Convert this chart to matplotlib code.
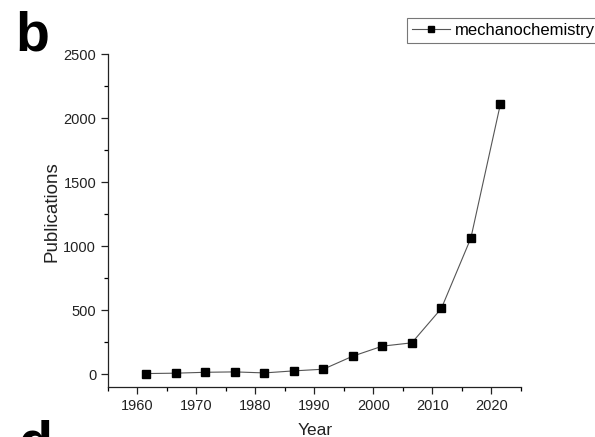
import numpy as np
import matplotlib
matplotlib.use("Agg")
import matplotlib.pyplot as plt
from matplotlib.ticker import MultipleLocator
from matplotlib.lines import Line2D

plt.rcParams['font.family'] = ['Liberation Sans', 'DejaVu Sans']

# data
years = [1961.5, 1966.5, 1971.5, 1976.5, 1981.5, 1986.5, 1991.5,
         1996.5, 2001.5, 2006.5, 2011.5, 2016.5, 2021.5]
pubs = [5, 8, 15, 18, 10, 26, 39, 141, 219, 245, 513, 1062, 2107]
series_name = "mechanochemistry"

fig = plt.figure(figsize=(5.95, 4.37), dpi=100)
ax = fig.add_axes([0.1815, 0.1144, 0.6941, 0.762])

ax.plot(years, pubs, color='#555555', lw=0.8, marker='s', ms=5.2,
        mfc='black', mec='black')

ax.set_xlim(1955, 2025)
ax.set_ylim(-100, 2500)
ax.xaxis.set_major_locator(MultipleLocator(10))
ax.xaxis.set_minor_locator(MultipleLocator(5))
ax.yaxis.set_major_locator(MultipleLocator(500))
ax.yaxis.set_minor_locator(MultipleLocator(250))
ax.tick_params(which='major', direction='out', length=5, width=0.9,
               labelsize=10.5, colors='#222222')
ax.tick_params(which='minor', direction='out', length=3, width=0.9)
ax.spines['top'].set_visible(False)
ax.spines['right'].set_visible(False)
for s in ['left', 'bottom']:
    ax.spines[s].set_linewidth(0.9)
    ax.spines[s].set_color('#222222')
ax.set_yticks([0, 500, 1000, 1500, 2000, 2500])

ax.set_xlabel("Year", fontsize=12.5, color='#222222')
ax.set_ylabel("Publications", fontsize=13.5, color='#222222')
ax.xaxis.set_label_coords((315 - 108) / 413, -(430 - 387) / 333)
ax.yaxis.set_label_coords(-(108 - 52) / 413, (387 - 212) / 333)
ax.xaxis.label.set_va('center')
ax.yaxis.label.set_va('center')

# legend sits partly outside the figure, as in the cropped original
handle = Line2D([], [], color='#555555', lw=0.8, marker='s', ms=4.5,
                mfc='black', mec='black')
leg = fig.legend([handle], [series_name], loc='upper left',
                 bbox_to_anchor=(407 / 595, 1 - 18 / 437),
                 borderaxespad=0, fancybox=False, edgecolor='#777777',
                 fontsize=12, handlelength=2.3, handletextpad=0.3,
                 borderpad=0.3, framealpha=1)
leg.get_frame().set_linewidth(0.8)

fig.text(0.025, 0.975, "b", fontsize=40, fontweight='bold', va='top', ha='left')
fig.text(0.032, -0.08, "d", fontsize=40, fontweight='bold', va='bottom', ha='left')

fig.savefig("out.png", dpi=100)
